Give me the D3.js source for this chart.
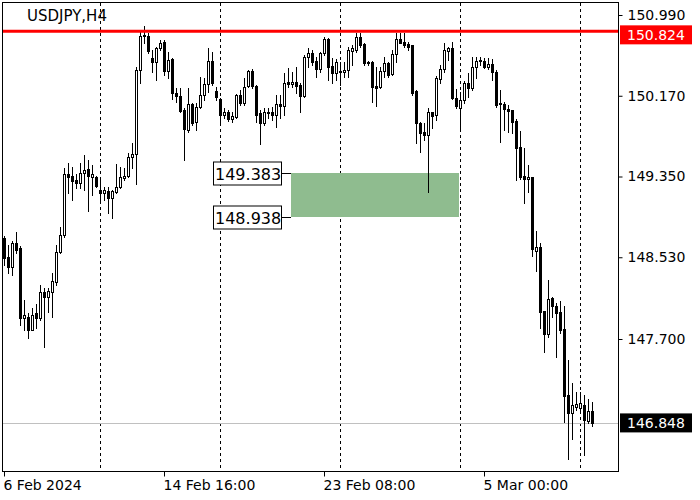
<!DOCTYPE html>
<html><head><meta charset="utf-8">
<script src="https://cdn.jsdelivr.net/npm/d3@7"></script>
<style>body{margin:0;background:#fff}svg{display:block}text{font-family:"DejaVu Sans",sans-serif}</style>
</head><body><svg id="c" width="700" height="500"></svg>
<script>
const symbol = "USDJPY,H4";
const open = [
148.73,148.53,148.43,148.67,148.62,147.91,147.92,147.79,147.96,147.91,
148.18,148.13,148.18,148.28,148.58,148.76,149.38,149.36,149.31,149.28,
149.39,149.43,149.34,149.34,149.21,149.18,149.20,149.13,149.19,149.24,
149.33,149.36,149.55,149.58,150.43,150.78,150.78,150.55,150.51,150.65,
150.72,150.42,150.54,150.20,150.17,150.03,149.82,150.09,149.90,150.06,
150.18,150.29,150.52,150.22,150.14,149.97,150.01,149.93,149.95,150.18,
150.10,150.27,150.42,150.27,149.99,149.89,150.00,150.01,149.97,150.09,
150.07,150.31,150.29,150.31,150.28,150.17,150.56,150.60,150.52,150.44,
150.60,150.75,150.47,150.40,150.42,150.41,150.43,150.62,150.63,150.77,
150.70,150.51,150.51,150.27,150.26,150.42,150.50,150.39,150.59,150.75,
150.72,150.70,150.69,150.22,149.89,149.80,149.77,150.00,149.97,150.34,
150.44,150.62,150.65,150.15,150.05,150.13,150.30,150.25,150.46,150.52,
150.52,150.46,150.49,150.41,150.10,150.09,150.04,150.03,149.91,149.65,
149.36,149.32,149.34,148.59,148.63,147.98,147.75,148.12,148.04,147.97,
147.80,147.13,146.95,147.01,147.00,147.03,146.87,146.97];
const high = [
148.75,148.65,148.70,148.79,148.64,148.10,147.96,148.01,148.06,148.25,
148.22,148.22,148.37,148.65,148.84,149.44,149.49,149.45,149.38,149.49,
149.57,149.52,149.47,149.36,149.31,149.24,149.24,149.21,149.48,149.45,
149.44,149.59,149.69,150.46,150.82,150.88,150.81,150.63,150.66,150.74,
150.74,150.61,150.55,150.25,150.25,150.05,150.25,150.10,150.10,150.36,
150.35,150.65,150.61,150.26,150.15,150.05,150.03,150.01,150.19,150.23,
150.35,150.43,150.44,150.28,150.03,150.05,150.05,150.06,150.18,150.18,
150.40,150.45,150.41,150.46,150.30,150.58,150.65,150.63,150.56,150.61,
150.77,150.76,150.55,150.54,150.51,150.51,150.67,150.69,150.81,150.81,
150.71,150.52,150.52,150.46,150.46,150.56,150.51,150.63,150.81,150.81,
150.81,150.72,150.69,150.23,149.90,149.89,150.05,150.01,150.37,150.48,
150.71,150.67,150.72,150.24,150.21,150.32,150.40,150.56,150.56,150.56,
150.55,150.55,150.54,150.43,150.23,150.11,150.08,150.03,149.93,149.81,
149.64,149.47,149.35,148.80,148.67,147.98,148.30,148.13,148.07,148.09,
148.04,147.49,147.25,147.16,147.16,147.13,147.09,147.06];
const low = [
148.45,148.37,148.35,148.57,147.84,147.79,147.71,147.79,147.81,147.89,
147.62,147.97,147.92,148.25,148.57,148.74,149.18,149.11,149.23,149.23,
149.21,149.00,149.16,149.24,149.08,149.11,148.98,148.93,149.18,149.23,
149.31,149.34,149.44,149.27,150.30,150.71,150.60,150.41,150.33,150.63,
150.38,150.35,150.14,150.11,150.00,149.52,149.80,149.87,149.82,150.05,
150.13,150.21,150.28,150.13,149.87,149.94,149.91,149.90,149.94,150.08,
150.08,150.26,150.25,149.90,149.68,149.87,149.94,149.92,149.85,149.94,
149.97,150.26,150.26,150.20,150.00,150.16,150.46,150.48,150.36,150.41,
150.58,150.33,150.30,150.33,150.28,150.36,150.36,150.48,150.61,150.67,
150.48,150.48,150.11,150.07,150.25,150.36,150.36,150.38,150.51,150.71,
150.66,150.63,150.18,149.69,149.60,149.72,149.19,149.84,149.92,150.30,
150.41,150.53,150.14,150.05,149.82,150.10,150.16,150.23,150.35,150.48,
150.45,150.44,150.33,150.06,149.70,149.82,149.80,149.79,149.31,149.32,
149.08,149.19,148.54,148.39,147.81,147.57,147.72,147.92,147.52,147.76,
146.86,146.48,146.68,146.98,146.97,146.52,146.85,146.82];
const close = [
148.52,148.43,148.67,148.60,147.91,147.94,147.79,147.94,147.91,148.18,
148.13,148.19,148.29,148.58,148.76,149.38,149.35,149.30,149.28,149.39,
149.42,149.36,149.38,149.25,149.18,149.21,149.13,149.20,149.24,149.34,
149.36,149.55,149.58,150.43,150.78,150.79,150.62,150.51,150.65,150.71,
150.42,150.53,150.20,150.17,150.02,149.83,150.09,149.89,150.06,150.18,
150.29,150.52,150.30,150.16,149.97,150.01,149.93,149.96,150.18,150.10,
150.26,150.42,150.27,149.97,149.89,150.00,150.01,149.97,150.09,150.07,
150.30,150.29,150.31,150.27,150.17,150.56,150.60,150.51,150.44,150.60,
150.75,150.46,150.40,150.51,150.41,150.43,150.63,150.65,150.77,150.69,
150.50,150.50,150.26,150.25,150.42,150.50,150.38,150.59,150.75,150.71,
150.69,150.67,150.20,149.89,149.79,149.77,150.00,149.96,150.35,150.44,
150.63,150.65,150.15,150.07,150.13,150.30,150.25,150.46,150.52,150.53,
150.46,150.49,150.41,150.08,150.09,150.04,150.02,149.90,149.64,149.35,
149.32,149.34,148.61,148.63,147.97,147.75,148.11,148.04,147.96,147.79,
147.12,146.95,147.03,147.04,147.05,146.88,146.97,146.848];

const priceTicks = [150.990, 150.170, 149.350, 148.530, 147.700];
const timeTickIndex = [0, 40, 80, 120];
const timeTickLabels = ["6 Feb 2024", "14 Feb 16:00", "23 Feb 08:00", "5 Mar 00:00"];
const weekSeparatorIndex = [24, 54, 84, 114, 144];
const resistanceLevel = 150.824;
const currentPrice = 146.848;
const zoneTop = 149.383, zoneBottom = 148.938;
const zoneStartIndex = 72, zoneEndIndex = 114;

const svg = d3.select("#c");
const L = 3, R = 618, T = 3, B = 471;
const x = d3.scaleLinear().domain([0, 147]).range([4, 592]);
const y = d3.scaleLinear().domain([147.700, 150.990]).range([339, 15]);
const fmt = d3.format(".3f");

svg.append("rect").attr("width", 700).attr("height", 500).attr("fill", "#fff");

svg.append("defs").append("clipPath").attr("id", "plot")
  .append("rect").attr("x", L).attr("y", T).attr("width", R - L).attr("height", B - T);

const plot = svg.append("g").attr("clip-path", "url(#plot)");

// week separators
plot.selectAll("line.sep").data(weekSeparatorIndex).join("line")
  .attr("x1", d => Math.round(x(d)) + 0.5).attr("x2", d => Math.round(x(d)) + 0.5)
  .attr("y1", T).attr("y2", B)
  .attr("stroke", "#000").attr("stroke-width", 1).attr("stroke-dasharray", "3,3");

// zone
plot.append("rect")
  .attr("x", Math.round(x(zoneStartIndex)) - 1)
  .attr("width", Math.round(x(zoneEndIndex)) - Math.round(x(zoneStartIndex)))
  .attr("y", Math.round(y(zoneTop)))
  .attr("height", Math.round(y(zoneBottom)) - Math.round(y(zoneTop)))
  .attr("fill", "#8fbc8f");

// current price line
plot.append("line").attr("x1", L).attr("x2", R)
  .attr("y1", Math.round(y(currentPrice)) + 0.5).attr("y2", Math.round(y(currentPrice)) + 0.5)
  .attr("stroke", "#c0c0c0").attr("stroke-width", 1);

// candles
const idx = d3.range(open.length);
const cg = plot.append("g");
idx.forEach(i => {
  const cx = Math.round(x(i));
  const yo = Math.round(y(open[i])), yc = Math.round(y(close[i]));
  const yh = Math.round(y(high[i])), yl = Math.round(y(low[i]));
  cg.append("line").attr("x1", cx + 0.5).attr("x2", cx + 0.5)
    .attr("y1", yh).attr("y2", yl + 1).attr("stroke", "#000").attr("stroke-width", 1);
  const top = Math.min(yo, yc), bot = Math.max(yo, yc);
  if (close[i] >= open[i]) {
    cg.append("rect").attr("x", cx - 0.5).attr("y", top + 0.5)
      .attr("width", 2).attr("height", Math.max(bot - top, 1))
      .attr("fill", "#fff").attr("stroke", "#000").attr("stroke-width", 1);
  } else {
    cg.append("rect").attr("x", cx - 1).attr("y", top)
      .attr("width", 3).attr("height", Math.max(bot - top, 1) + 1)
      .attr("fill", "#000");
  }
});

// resistance line
plot.append("line").attr("x1", L).attr("x2", R)
  .attr("y1", y(resistanceLevel)).attr("y2", y(resistanceLevel))
  .attr("stroke", "#ff0000").attr("stroke-width", 3);

// zone labels
[zoneTop, zoneBottom].forEach(v => {
  const yy = Math.round(y(v)) + 0.5;
  svg.append("line").attr("x1", 281).attr("x2", Math.round(x(zoneStartIndex)) - 1)
    .attr("y1", yy).attr("y2", yy).attr("stroke", "#000");
  svg.append("rect").attr("x", 213.5).attr("y", yy - 11.5).attr("width", 68).attr("height", 23)
    .attr("fill", "#fff").attr("stroke", "#000");
  svg.append("text").attr("x", 215).attr("y", yy + 6).attr("font-size", 16)
    .attr("fill", "#000").text(fmt(v));
});

// frame
svg.append("rect").attr("x", L - 0.5).attr("y", T - 0.5).attr("width", R - L + 1).attr("height", B - T + 1)
  .attr("fill", "none").attr("stroke", "#000");

// right axis
const yAxis = d3.axisRight(y).tickValues(priceTicks).tickFormat(fmt).tickSize(4).tickPadding(5);
const ag = svg.append("g").attr("transform", `translate(${R + 0.5},0)`).call(yAxis);
ag.select(".domain").remove();
ag.selectAll("text").attr("font-size", 14).attr("font-family", "DejaVu Sans").attr("fill", "#000");
ag.selectAll("line").attr("stroke", "#000");

// bottom axis
const xAxis = d3.axisBottom(x).tickValues(timeTickIndex).tickFormat((d, i) => timeTickLabels[i]).tickSize(5).tickPadding(4);
const bg = svg.append("g").attr("transform", `translate(0,${B + 0.5})`).call(xAxis);
bg.select(".domain").remove();
bg.selectAll("text").attr("font-size", 14).attr("font-family", "DejaVu Sans").attr("fill", "#000")
  .attr("text-anchor", "start").attr("dx", -1);
bg.selectAll("line").attr("stroke", "#000");

// price labels on axis
function priceTag(v, bgc, yOff) {
  const yy = y(v);
  svg.append("rect").attr("x", R + 2).attr("y", yy + yOff).attr("width", 72).attr("height", 19).attr("fill", bgc);
  svg.append("text").attr("x", R + 9).attr("y", yy + yOff + 15).attr("font-size", 14).attr("fill", "#fff").text(fmt(v));
}
priceTag(resistanceLevel, "#ff0000", -6);
priceTag(currentPrice, "#000", -9.5);

// title
svg.append("text").attr("x", 27).attr("y", 21).attr("font-size", 15).attr("fill", "#000").text(symbol);
</script></body></html>
